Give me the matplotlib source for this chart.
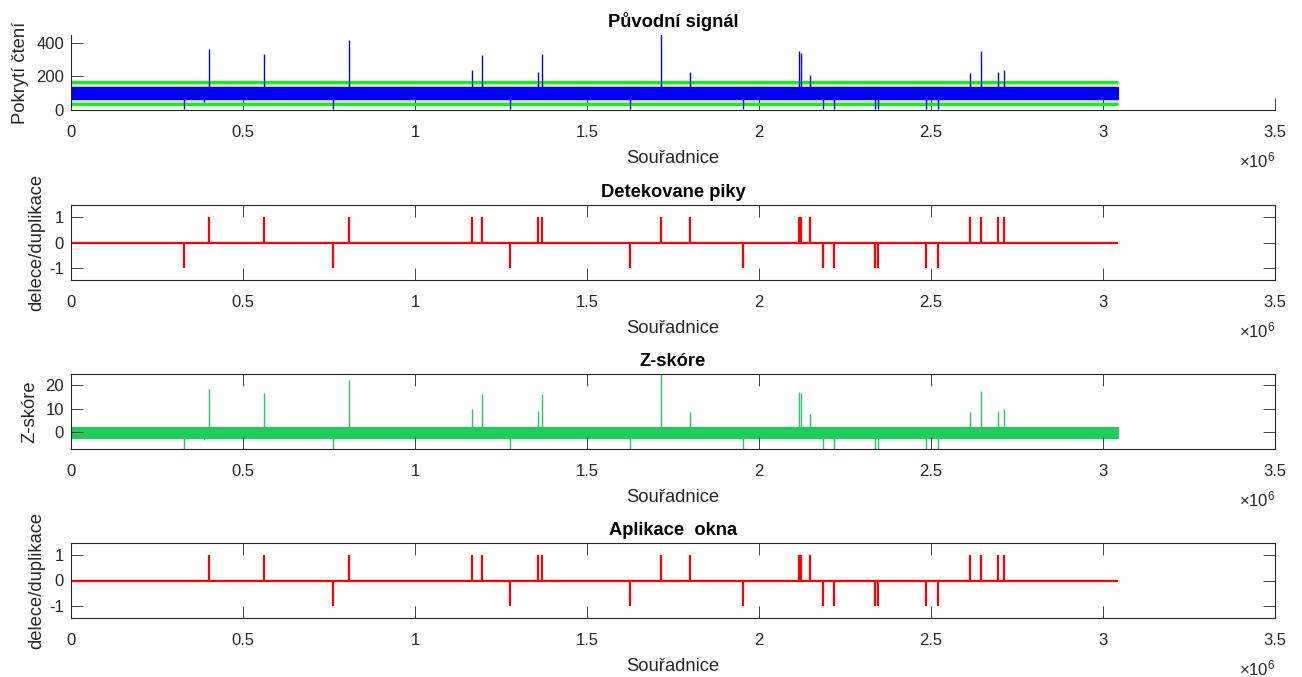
import numpy as np
import matplotlib
matplotlib.use('Agg')
import matplotlib.pyplot as plt

plt.rcParams['font.family'] = ['Liberation Sans', 'DejaVu Sans']
plt.rcParams['mathtext.fontset'] = 'custom'
plt.rcParams['mathtext.rm'] = 'Liberation Sans'
plt.rcParams['axes.unicode_minus'] = False

# --- data (positions in units of 1e6) ---
data_end = 3.043
dup_pos = [0.400, 0.562, 0.809, 1.165, 1.195, 1.358, 1.370, 1.716, 1.799,
           2.116, 2.121, 2.149, 2.614, 2.645, 2.695, 2.712]
del_pos = [0.328, 0.761, 1.275, 1.626, 1.953, 2.187, 2.219, 2.337, 2.347,
           2.486, 2.519]
win_dup_pos = [0.400, 0.562, 0.809, 1.165, 1.195, 1.358, 1.370, 1.716, 1.799,
               2.116, 2.121, 2.149, 2.614, 2.645, 2.695, 2.712]
win_del_pos = [0.761, 1.275, 1.626, 1.953, 2.187, 2.219, 2.337, 2.347,
               2.486, 2.519]

# read coverage at peaks / dips
cov_peaks = [360, 332, 414, 239, 328, 227, 330, 454, 225, 348, 340, 209,
             221, 350, 227, 237]
cov_dips = [5, 3, 5, 5, 5, 5, 5, 3, 3, 8, 5]
cov_minor_pos = [0.386]
cov_minor_val = [50]
cov_mean = 100
cov_band = [68, 135]          # visible spread of the noisy coverage
cov_limits = [36, 168]        # green threshold lines

z_peaks = [18.2, 16.4, 22.0, 9.8, 16.0, 8.8, 16.1, 24.5, 8.6, 17.1, 16.5,
           7.5, 8.4, 17.5, 8.8, 9.6]
z_dips = [-7.0, -7.0, -7.0, -7.0, -7.0, -7.0, -7.0, -7.0, -7.0, -7.0, -7.0]
z_minor_val = [-3.4]
z_band = [-2.3, 2.3]

xtick_vals = [0, 0.5, 1, 1.5, 2, 2.5, 3, 3.5]
xtick_labels = ['0', '0.5', '1', '1.5', '2', '2.5', '3', '3.5']

SCALE = 1e6
TXT = '#262626'
BLUE = '#0000FF'
ZGREEN = '#1ECD5A'
LAB = 13.2
W, H = 1302, 677

fig = plt.figure(figsize=(W / 100, H / 100), dpi=100)


def make_ax(top_px, bottom_px, boxed=True):
    left, right = 71, 1275
    ax = fig.add_axes([left / W, 1 - bottom_px / H, (right - left) / W,
                       (bottom_px - top_px) / H])
    ax.set_xlim(0, 3.5 * SCALE)
    ax.set_xticks([v * SCALE for v in xtick_vals])
    ax.set_xticklabels(xtick_labels)
    ax.tick_params(direction='in', length=8.6, width=0.6, color=TXT,
                   labelcolor=TXT, labelsize=12, top=boxed, right=boxed)
    ax.tick_params(axis='x', pad=11)
    ax.tick_params(axis='y', pad=5)
    for s in ax.spines.values():
        s.set_color(TXT)
        s.set_linewidth(0.8)
    if not boxed:
        ax.spines['top'].set_visible(False)
        ax.spines['right'].set_visible(False)
    ax.set_xlabel('Souřadnice', fontsize=LAB, color=TXT, labelpad=7)
    ax.annotate(r'$\times\mathregular{10^{6}}$', xy=(1, 0),
                xycoords='axes fraction', xytext=(0, -36),
                textcoords='offset points', ha='right', va='center',
                fontsize=12, color=TXT)
    return ax


def step_events(ax, dups, dels):
    end = data_end * SCALE
    ax.hlines(0, 0, end, color='red', lw=1.6)
    ax.vlines([p * SCALE for p in dups], 0, 1, color='red', lw=1.6)
    ax.vlines([p * SCALE for p in dels], -1, 0, color='red', lw=1.6)
    ax.set_ylim(-1.45, 1.45)
    ax.set_yticks([-1, 0, 1])
    ax.set_ylabel('delece/duplikace', fontsize=LAB, color=TXT, labelpad=3)


# 1) original coverage signal
ax1 = make_ax(35, 110, boxed=False)
end = data_end * SCALE
ax1.fill_between([0, end], cov_limits[0], cov_limits[1], color='#D9D9D9', lw=0)
ax1.hlines(cov_limits, 0, end, color='#00FF00', lw=2.2)
ax1.fill_between([0, end], cov_band[0], cov_band[1], color=BLUE, lw=0.8,
                 edgecolor=BLUE)
ax1.vlines([p * SCALE for p in dup_pos], cov_mean, cov_peaks, color=BLUE, lw=1.0)
ax1.vlines([p * SCALE for p in del_pos], cov_dips, cov_mean, color=BLUE, lw=1.0)
ax1.vlines([p * SCALE for p in cov_minor_pos], cov_minor_val, cov_mean,
           color=BLUE, lw=1.0)
ax1.set_ylim(0, 445)
ax1.set_yticks([0, 200, 400])
ax1.set_ylabel('Pokrytí čtení', fontsize=LAB, color=TXT, labelpad=5)
ax1.set_title('Původní signál', fontsize=LAB, fontweight='bold', pad=6)

# 2) detected peaks
ax2 = make_ax(205, 280)
step_events(ax2, dup_pos, del_pos)
ax2.set_title('Detekovane piky', fontsize=LAB, fontweight='bold', pad=6)

# 3) z-score
ax3 = make_ax(374, 449)
ax3.fill_between([0, end], z_band[0], z_band[1], color=ZGREEN, lw=0.8,
                 edgecolor=ZGREEN)
ax3.vlines([p * SCALE for p in dup_pos], 0, z_peaks, color=ZGREEN, lw=1.0)
ax3.vlines([p * SCALE for p in del_pos], z_dips, 0, color=ZGREEN, lw=1.0)
ax3.vlines([p * SCALE for p in cov_minor_pos], z_minor_val, 0, color=ZGREEN,
           lw=1.0)
ax3.set_ylim(min(z_dips), max(z_peaks))
ax3.set_yticks([0, 10, 20])
ax3.set_ylabel('Z-skóre', fontsize=LAB, color=TXT, labelpad=5)
ax3.set_title('Z-skóre', fontsize=LAB, fontweight='bold', pad=6)

# 4) after window
ax4 = make_ax(543, 618)
step_events(ax4, win_dup_pos, win_del_pos)
ax4.set_title('Aplikace  okna', fontsize=LAB, fontweight='bold', pad=6)

fig.savefig('out.png', dpi=100)
